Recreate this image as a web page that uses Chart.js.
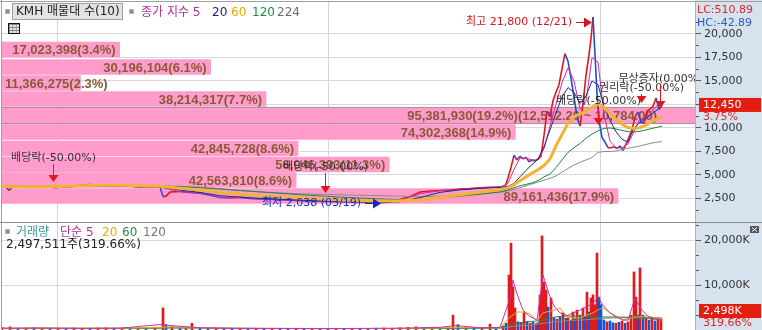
<!DOCTYPE html>
<html lang="ko">
<head>
<meta charset="utf-8">
<title>KMH 매물대</title>
<script src="https://cdn.jsdelivr.net/npm/chart.js@4.4.1/dist/chart.umd.min.js"></script>
<style>
  body { margin: 0; background: #fff; }
  #wrap { position: relative; width: 762px; height: 330px; overflow: hidden;
          font-family: "DejaVu Sans", "Noto Sans CJK KR", sans-serif; }
  #axisBg { position: absolute; left: 695px; top: 0; width: 67px; height: 330px; background: #d6e2ee; }
  canvas { position: absolute; left: 0; top: 0; }
  .lg { position: absolute; font-size: 12px; line-height: 14px; white-space: nowrap; }
  .sq { position: absolute; width: 3px; height: 3px; background: #8a8a8a; border: 1px solid #b5b5b5; }
  #kmh { position: absolute; left: 12px; top: 3px; width: 106px; height: 15px; padding-left: 3px;
         background: #e3e3e3; border: 1px solid #a0a0a0; font-size: 12px; line-height: 15px; color: #222; }
  #tbl { position: absolute; left: 8px; top: 23px; width: 10px; height: 9px; border: 1.5px solid #111;
         background-color: #e8e8e8;
         background-image: linear-gradient(#888 1px, transparent 1px), linear-gradient(90deg, #888 1px, transparent 1px);
         background-size: 3.4px 3px; }
</style>
</head>
<body>
<div id="wrap">
  <div id="axisBg"></div>
  <canvas id="base" width="762" height="330"></canvas>
  <canvas id="profile" width="762" height="222"></canvas>
  <canvas id="price" width="762" height="222"></canvas>

  <div class="sq" style="left:5px;top:9px"></div>
  <div id="kmh">KMH 매물대 수(10)</div>
  <div class="sq" style="left:129px;top:9px"></div>
  <div class="lg" style="left:141px;top:5px;color:#b0309a">종가 지수 5</div>
  <div class="lg" style="left:212px;top:5px;color:#1c1c8c">20</div>
  <div class="lg" style="left:231px;top:5px;color:#e8a800">60</div>
  <div class="lg" style="left:252px;top:5px;color:#1e8c46">120</div>
  <div class="lg" style="left:277px;top:5px;color:#6e6e6e">224</div>
  <div id="tbl"></div>

  <div class="sq" style="left:5px;top:229px"></div>
  <div class="lg" style="left:16px;top:225px;color:#3c9a9a">거래량</div>
  <div class="lg" style="left:60px;top:225px;color:#b0309a">단순 5</div>
  <div class="lg" style="left:102px;top:225px;color:#e0b000">20</div>
  <div class="lg" style="left:122px;top:225px;color:#2a8a4a">60</div>
  <div class="lg" style="left:143px;top:225px;color:#777">120</div>
  <div class="lg" style="left:6px;top:237px;color:#222">2,497,511주(319.66%)</div>
</div>

<script>
// sessions run along the x axis, prices in won, volumes in thousand shares
const priceDays = [2, 6, 9, 12, 20, 30, 40, 50, 55, 60,
  70, 80, 90, 100, 110, 120, 130, 140, 150, 160,
  163, 166, 170, 180, 190, 200, 210, 220, 230, 240,
  250, 260, 270, 280, 290, 300, 310, 320, 330, 340,
  350, 360, 370, 382, 390, 400, 410, 420, 430, 440,
  450, 460, 470, 480, 490, 500, 505, 508, 511, 514,
  517, 520, 523, 526, 529, 532, 535, 538, 541, 544,
  547, 550, 553, 556, 559, 562, 565, 568, 571, 574,
  577, 580, 583, 586, 589, 591, 593, 595, 597, 599,
  602, 605, 608, 611, 614, 617, 620, 623, 626, 629,
  632, 635, 638, 641, 644, 647, 650, 653, 656, 659, 662];
const close = [3780, 3750, 3350, 3700, 3720, 3740, 3700, 3720, 3650, 3700,
  3760, 3900, 3980, 3860, 3800, 3820, 3830, 3700, 3760, 3740,
  2700, 2750, 3200, 3250, 3150, 3050, 2850, 2600, 2550, 2620,
  2500, 2450, 2420, 2380, 2330, 2280, 2250, 2200, 2180, 2170,
  2150, 2120, 2090, 2040, 2150, 2400, 2700, 3200, 3300, 3350,
  3400, 3500, 3550, 3650, 3700, 3720, 3700, 4700, 5800, 7100,
  6600, 7000, 6700, 6900, 6400, 6600, 6500, 6700, 7000, 9200,
  11800, 11200, 12900, 13800, 14600, 16300, 17900, 17100, 15300, 13300,
  11200, 10200, 12600, 15600, 17800, 19500, 21800, 17800, 13700, 10800,
  9000, 8500, 7900, 7900, 8000, 7800, 8100, 7600, 8300, 9000,
  9800, 11200, 11700, 10600, 10500, 11800, 12000, 12300, 13200, 12000, 12450];

const maDays = [2, 20, 40, 60, 80, 100, 120, 140, 160, 180, 200, 220, 240,
  260, 280, 300, 320, 340, 360, 380, 400, 420, 440, 460, 480, 500,
  508, 514, 520, 526, 532, 538, 544, 550, 556, 562, 568, 574, 580,
  586, 592, 598, 604, 610, 616, 622, 628, 634, 640, 646, 652, 658, 662];
const ma5 = [3760, 3720, 3710, 3720, 3880, 3900, 3820, 3740, 3700, 3230, 3080, 2640, 2600,
  2460, 2390, 2290, 2210, 2170, 2130, 2060, 2300, 3000, 3330, 3480, 3630, 3700,
  4100, 5600, 6800, 6800, 6600, 6600, 7800, 10200, 12500, 14800, 16400, 15000, 12000,
  12800, 17500, 17000, 11500, 8600, 7900, 7900, 8300, 9600, 11000, 11000, 11800, 12500, 12600];
const ma20 = [3760, 3730, 3720, 3710, 3800, 3880, 3840, 3780, 3740, 3400, 3150, 2800, 2650,
  2520, 2420, 2330, 2250, 2190, 2150, 2100, 2150, 2600, 3150, 3420, 3580, 3680,
  3800, 4100, 4800, 5500, 6100, 6700, 8000, 9800, 11600, 13300, 14300, 13800, 12600,
  13400, 15000, 14600, 12300, 10800, 9600, 8800, 8500, 10000, 10600, 11000, 11500, 12000, 12300];
const ma60 = [3780, 3760, 3750, 3780, 3850, 3900, 3900, 3860, 3800, 3600, 3400, 3150, 2950,
  2800, 2650, 2550, 2450, 2350, 2280, 2230, 2250, 2350, 2600, 2900, 3200, 3450,
  3650, 3950, 4400, 4800, 5200, 5550, 6000, 6700, 8100, 9300, 10500, 11200, 11500,
  11800, 12200, 12600, 12200, 11500, 10900, 10400, 10050, 9950, 10050, 10300, 10700, 11000, 11200];
const ma120 = [3800, 3790, 3780, 3770, 3790, 3820, 3840, 3850, 3830, 3750, 3650, 3500, 3350,
  3200, 3050, 2900, 2780, 2650, 2550, 2450, 2400, 2420, 2550, 2750, 2950, 3200,
  3400, 3650, 3850, 4000, 4150, 4400, 4800, 5100, 5800, 6600, 7400, 7900, 8350,
  8900, 9350, 9700, 9950, 10000, 9900, 9750, 9600, 9570, 9650, 9800, 9950, 10100, 10200];
const ma224 = [3850, 3840, 3830, 3820, 3820, 3830, 3840, 3840, 3830, 3800, 3700, 3550, 3350,
  3200, 3100, 3000, 2950, 2900, 2850, 2800, 2750, 2700, 2750, 2850, 3000, 3150,
  3300, 3450, 3650, 3850, 4050, 4250, 4450, 4650, 4900, 5300, 5700, 6050, 6350,
  6600, 6850, 7400, 7500, 7500, 7550, 7700, 7850, 7950, 8100, 8250, 8400, 8500, 8560];

const volDays = [2, 10, 18, 26, 34, 42, 50, 58, 66, 74,
  82, 90, 98, 106, 114, 122, 130, 138, 146, 155,
  163, 166, 172, 180, 186, 192, 200, 208, 216, 224,
  232, 240, 248, 256, 264, 272, 280, 288, 296, 304,
  312, 320, 328, 336, 344, 352, 360, 368, 376, 384,
  392, 400, 408, 416, 424, 432, 440, 448, 453, 458,
  466, 474, 482, 490, 496, 503, 506, 509, 511, 513,
  515, 518, 521, 524, 527, 530, 533, 536, 538, 540,
  542, 544, 546, 548, 551, 554, 557, 560, 563, 566,
  568, 571, 573, 575, 577, 580, 583, 585, 587, 589,
  591, 593, 595, 597, 599, 601, 604, 607, 610, 613,
  616, 619, 622, 625, 628, 631, 634, 636, 638, 640,
  643, 646, 649, 652, 655, 658, 661];
const volK = [600, 700, 400, 350, 500, 300, 400, 350, 300, 450,
  350, 300, 450, 500, 350, 400, 300, 350, 300, 600,
  4900, 1200, 700, 450, 400, 1500, 500, 400, 350, 300,
  350, 300, 250, 300, 250, 300, 250, 300, 250, 300,
  250, 300, 250, 300, 250, 300, 250, 300, 400, 450,
  350, 500, 600, 700, 500, 450, 400, 500, 3300, 1200,
  600, 500, 450, 1300, 500, 900, 1500, 12200, 19300, 9600,
  4900, 1800, 1700, 4000, 1900, 1500, 1700, 1400, 1600, 7800,
  20900, 10600, 8900, 5100, 7100, 2700, 2400, 2900, 3800, 2600,
  2700, 2200, 4000, 2500, 4400, 3300, 4900, 3000, 8400, 4000,
  7100, 7800, 5600, 17100, 7300, 5600, 2200, 1800, 2000, 1600,
  1500, 1700, 2000, 1500, 1800, 3300, 12900, 7300, 3300, 13800,
  3300, 2700, 2200, 2600, 2000, 2700, 2498];
const volUp = [1, 1, 0, 1, 0, 1, 0, 1, 0, 1,
  1, 0, 1, 1, 0, 1, 0, 1, 0, 1,
  1, 0, 1, 0, 1, 1, 0, 0, 1, 0,
  0, 1, 0, 1, 0, 1, 0, 0, 1, 0,
  1, 0, 0, 1, 0, 1, 0, 0, 0, 1,
  1, 1, 1, 1, 0, 1, 0, 1, 1, 0,
  1, 0, 1, 1, 0, 1, 0, 1, 1, 1,
  1, 0, 1, 1, 0, 1, 0, 1, 0, 1,
  1, 1, 1, 0, 1, 0, 1, 0, 1, 0,
  1, 0, 1, 0, 1, 0, 1, 0, 1, 0,
  1, 1, 1, 1, 0, 0, 0, 1, 0, 0,
  1, 0, 1, 0, 1, 1, 1, 1, 0, 1,
  0, 1, 0, 1, 0, 1, 1];

const vmaDays = [2, 40, 80, 120, 160, 170, 200, 240, 280, 320,
  360, 400, 440, 455, 480, 500, 510, 513, 517, 523,
  530, 537, 543, 550, 555, 560, 567, 573, 580, 587,
  593, 598, 603, 610, 617, 623, 628, 635, 642, 648, 655, 662];
const vma5 = [400, 450, 350, 400, 1200, 1000, 500, 300, 350, 300,
  350, 400, 600, 1000, 500, 600, 7000, 11100, 8000, 4400,
  3000, 2200, 12200, 7300, 5000, 3800, 3200, 3800, 4400, 5200,
  6000, 7300, 5500, 3800, 2800, 2200, 2200, 7100, 4400, 3000, 2500, 2200];
const vma20 = [400, 420, 400, 400, 600, 700, 550, 350, 330, 320,
  330, 380, 450, 600, 550, 500, 2900, 3300, 4000, 4000,
  3600, 2000, 3800, 4200, 4400, 4900, 2900, 2700, 2700, 3300,
  3800, 4500, 4900, 3800, 3000, 2200, 2500, 2900, 3000, 3100, 2700, 2200];
const vma60 = [350, 380, 380, 380, 450, 500, 480, 380, 330, 320,
  320, 340, 380, 420, 450, 460, 1100, 1300, 1500, 1700,
  1900, 2000, 2200, 2600, 2900, 3000, 3100, 3100, 3100, 3000,
  2950, 2900, 2900, 2900, 2900, 2850, 2850, 2900, 2800, 2600, 2400, 2200];
const vma120 = [330, 350, 360, 370, 400, 420, 430, 400, 360, 340,
  330, 330, 340, 360, 390, 420, 700, 800, 900, 1000,
  1100, 1250, 1500, 1700, 1850, 1950, 2050, 2150, 2200, 2300,
  2400, 2500, 2550, 2650, 2700, 2700, 2700, 2700, 2700, 2700, 2700, 2700];

// volume profile (매물대), 10 price bins
const profileCenters = [18350, 16490, 14780, 13080, 11330, 9570, 7820, 6120, 4470, 2770];
const profileVol = [17023398, 30196104, 11366275, 38214317, 95381930, 74302368, 42845728, 56046393, 42563810, 89161436];
const profilePct = [3.4, 6.1, 2.3, 7.7, 19.2, 14.9, 8.6, 11.3, 8.6, 17.9];
const currentBin = 4;
const currentRange = '(12,512.20 ~ 10,784.00)';

// events on the price pane
const eventDays = [53, 325, 598, 641, 660];
const eventPrice = [4250, 3080, 10320, 12650, 12130];
const eventLabels = ['배당락(-50.00%)', '배당락(-50.00%)', '배당락(-50.00%)', '권리락(-50.00%)', '무상증자(0.00%)'];
const highDay = 593, highPrice = 21800, highLabel = '최고 21,800 (12/21)';
const lowDay = 382, lowPrice = 2038, lowLabel = '최저 2,038 (03/19)';

const priceTicks = [2500, 5000, 7500, 10000, 12500, 15000, 17500, 20000];
const volTicks = [10000, 20000];
const gridSessions = [57, 328, 600];

const lastClose = 12450, changePct = '3.75%';
const lastVolK = 2498, volPct = '319.66%';
const lcText = 'LC:510.89', hcText = 'HC:-42.89';

// layout / style
const PRICE_MAX = 23400, VOL_MAX = 24000, PROFILE_MAX = 100.3e6;
const eventLift = [24, 26, 24, 15, 29];
const FONT = '"DejaVu Sans", "Noto Sans CJK KR", sans-serif';

function pts(xs, ys) {
  return xs.map((v, i) => ({ x: v, y: ys[i] }));
}

// major ticks plus short minor marks in between
function withMinors(major, parts, top) {
  const step = major[1] - major[0];
  const t = [];
  for (let v = major[0] - step; v < top; v += step) {
    for (let k = 1; k <= parts; k++) {
      const m = k === parts ? v + step : v + step * k / parts;
      if (m > 0 && m < top) t.push({ value: k === parts ? Math.round(m) : m });
    }
  }
  return t;
}

const panelDecor = {
  id: 'panelDecor',
  afterDraw(chart) {
    const { ctx, scales } = chart;
    ctx.save();
    ctx.strokeStyle = '#a0a0a0';
    ctx.lineWidth = 1;
    ctx.beginPath();
    ctx.moveTo(0, 1.5); ctx.lineTo(762, 1.5);
    ctx.moveTo(1.5, 0); ctx.lineTo(1.5, 330);
    ctx.stroke();
    ctx.strokeStyle = '#8c8c8c';
    ctx.beginPath();
    ctx.moveTo(0, 222.5); ctx.lineTo(762, 222.5);
    ctx.stroke();

    ctx.font = '11px ' + FONT;
    ctx.textBaseline = 'middle';
    ctx.textAlign = 'left';
    ctx.fillStyle = '#e0282a';
    ctx.fillText(lcText, 697, 10);
    ctx.fillStyle = '#2a5cc4';
    ctx.fillText(hcText, 697, 23);

    const py = scales.y.getPixelForValue(lastClose);
    ctx.fillStyle = '#e31e10';
    ctx.fillRect(699, py - 7, 62, 14);
    ctx.fillStyle = '#fff';
    ctx.fillText(lastClose.toLocaleString('en-US'), 703, py);
    ctx.fillStyle = '#e0282a';
    ctx.fillText(changePct, 703, py + 12);

    const vy = Math.min(scales.yv.getPixelForValue(lastVolK), scales.yv.bottom - 19);
    ctx.fillStyle = '#e31e10';
    ctx.fillRect(699, vy - 7, 62, 14);
    ctx.fillStyle = '#fff';
    ctx.fillText(lastVolK.toLocaleString('en-US') + 'K', 703, vy);
    ctx.fillStyle = '#e0282a';
    ctx.fillText(volPct, 703, vy + 12);

    // little close box of the volume pane
    ctx.fillStyle = '#555';
    ctx.fillRect(750, 226, 9, 7);
    ctx.strokeStyle = '#fff';
    ctx.beginPath();
    ctx.moveTo(752, 227.5); ctx.lineTo(757, 231.5);
    ctx.moveTo(757, 227.5); ctx.lineTo(752, 231.5);
    ctx.stroke();
    ctx.restore();
  }
};

const tickFont = { family: FONT, size: 11 };

function axisOpts(major, parts, top, suffix) {
  return {
    type: 'linear', position: 'right', stack: 'panes', min: 0, max: top,
    afterBuildTicks: s => { s.ticks = withMinors(major, parts, top); },
    afterFit: s => { s.width = 67; s.paddingTop = 0; s.paddingBottom = 0; },
    ticks: {
      font: tickFont, color: '#333', padding: 3, autoSkip: false, maxRotation: 0,
      callback: v => major.includes(v) ? v.toLocaleString('en-US') + suffix : ''
    },
    grid: {
      color: c => major.includes(c.tick.value) ? '#d9d9d9' : 'rgba(0,0,0,0)',
      tickColor: '#555', tickLength: 6,
      tickBorderDash: c => major.includes(c.tick.value) ? [] : [3, 20]
    },
    border: { color: '#a8b4c0' }
  };
}

new Chart(document.getElementById('base'), {
  type: 'line',
  data: {
    datasets: [
      { label: 'v5', data: pts(vmaDays, vma5), yAxisID: 'yv', borderColor: '#d02ca8', borderWidth: 1 },
      { label: 'v20', data: pts(vmaDays, vma20), yAxisID: 'yv', borderColor: '#e0b000', borderWidth: 1 },
      { label: 'v60', data: pts(vmaDays, vma60), yAxisID: 'yv', borderColor: '#228844', borderWidth: 1 },
      { label: 'v120', data: pts(vmaDays, vma120), yAxisID: 'yv', borderColor: '#8c8c8c', borderWidth: 1 },
      { type: 'bar', label: '거래량', data: pts(volDays, volK), yAxisID: 'yv',
        backgroundColor: volUp.map(u => u ? '#e01b1b' : '#1452d6'), barThickness: 2 }
    ]
  },
  options: {
    responsive: false,
    animation: false,
    layout: { padding: { left: 2, top: 2, right: 0, bottom: 0 } },
    elements: { point: { radius: 0 }, line: { tension: 0 } },
    plugins: { legend: { display: false }, tooltip: { enabled: false } },
    scales: {
      x: {
        type: 'linear', min: 2, max: 695, offset: false,
        afterBuildTicks: s => { s.ticks = gridSessions.map(v => ({ value: v })); },
        afterFit: s => { s.height = 0; s.paddingLeft = 0; s.paddingRight = 0; },
        ticks: { display: false },
        grid: { color: '#d4d4d4', drawTicks: false, offset: false },
        border: { display: false }
      },
      y: Object.assign(axisOpts(priceTicks, 2, PRICE_MAX - 1500, ''), { stackWeight: 220, max: PRICE_MAX }),
      yv: Object.assign(axisOpts(volTicks, 3, VOL_MAX, 'K'), { stackWeight: 108 })
    }
  },
  plugins: [panelDecor]
});

const profileLabels = {
  id: 'profileLabels',
  afterDatasetsDraw(chart) {
    const ctx = chart.ctx;
    const left = chart.chartArea.left;
    const meta = chart.getDatasetMeta(1);
    ctx.save();
    ctx.font = 'bold 13px "Liberation Sans", sans-serif';
    ctx.fillStyle = '#8a5a36';
    ctx.textBaseline = 'middle';
    meta.data.forEach((bar, i) => {
      let txt = profileVol[i].toLocaleString('en-US') + '(' + profilePct[i].toFixed(1) + '%)';
      if (i === currentBin) txt += currentRange;
      const w = ctx.measureText(txt).width;
      if (bar.x - left - 6 >= w) {
        ctx.textAlign = 'right';
        ctx.fillText(txt, bar.x - 4, bar.y + 1);
      } else {
        ctx.textAlign = 'left';
        ctx.fillText(txt, left + 3, bar.y + 1);
      }
    });
    ctx.restore();
  }
};

new Chart(document.getElementById('profile'), {
  type: 'bar',
  data: {
    datasets: [
      { label: 'band', data: [{ x: PROFILE_MAX, y: profileCenters[currentBin] }],
        backgroundColor: '#ff9ccc', borderColor: '#8f8f8f',
        borderWidth: { top: 1, bottom: 1, left: 0, right: 0 }, borderSkipped: false, barThickness: 17 },
      { label: '매물대', data: pts(profileVol, profileCenters),
        backgroundColor: '#ff9ccc', barThickness: 15 }
    ]
  },
  options: {
    indexAxis: 'y',
    responsive: false,
    animation: false,
    grouped: false,
    layout: { padding: { left: 2, top: 2, right: 67, bottom: 0 } },
    plugins: { legend: { display: false }, tooltip: { enabled: false } },
    scales: {
      x: { type: 'linear', display: false, min: 0, max: PROFILE_MAX },
      y: { type: 'linear', display: false, min: 0, max: PRICE_MAX, offset: false }
    }
  },
  plugins: [profileLabels]
});

const eventMarks = {
  id: 'eventMarks',
  afterDatasetsDraw(chart) {
    const { ctx, chartArea, scales: { x, y } } = chart;
    ctx.save();
    ctx.beginPath();
    ctx.rect(chartArea.left, chartArea.top, chartArea.width, chartArea.height);
    ctx.clip();
    ctx.font = '11px ' + FONT;
    ctx.textBaseline = 'middle';
    ctx.lineWidth = 1;
    eventDays.forEach((d, i) => {
      const px = Math.round(x.getPixelForValue(d)) + 0.5;
      const tip = y.getPixelForValue(eventPrice[i]);
      const ty = tip - eventLift[i];
      ctx.fillStyle = '#333';
      ctx.textAlign = 'center';
      ctx.fillText(eventLabels[i], px, ty);
      ctx.strokeStyle = ctx.fillStyle = '#e8141c';
      ctx.beginPath();
      ctx.moveTo(px, ty + 6); ctx.lineTo(px, tip - 6);
      ctx.stroke();
      ctx.beginPath();
      ctx.moveTo(px - 5, tip - 7); ctx.lineTo(px + 5, tip - 7); ctx.lineTo(px, tip);
      ctx.closePath();
      ctx.fill();
    });

    const mark = (day, price, label, color, dy) => {
      const tx = x.getPixelForValue(day) - 1;
      const ty = Math.round(y.getPixelForValue(price) + dy) + 0.5;
      ctx.fillStyle = ctx.strokeStyle = color;
      ctx.textAlign = 'right';
      ctx.fillText(label, tx - 20, ty);
      ctx.beginPath();
      ctx.moveTo(tx - 16, ty); ctx.lineTo(tx - 7, ty);
      ctx.stroke();
      ctx.beginPath();
      ctx.moveTo(tx - 8, ty - 5); ctx.lineTo(tx, ty); ctx.lineTo(tx - 8, ty + 5);
      ctx.closePath();
      ctx.fill();
    };
    mark(highDay, highPrice, highLabel, '#d4141c', 5);
    mark(lowDay, lowPrice, lowLabel, '#1428c8', 0);
    ctx.restore();
  }
};

new Chart(document.getElementById('price'), {
  type: 'line',
  data: {
    datasets: [
      { label: '60', data: pts(maDays, ma60), borderColor: '#f2b233', borderWidth: 3 },
      { label: '20', data: pts(maDays, ma20), borderColor: '#1c2a8c', borderWidth: 1 },
      { label: '5', data: pts(maDays, ma5), borderColor: '#d02ca0', borderWidth: 1 },
      { label: '120', data: pts(maDays, ma120), borderColor: '#1a8a3a', borderWidth: 1 },
      { label: '224', data: pts(maDays, ma224), borderColor: '#8c8c8c', borderWidth: 1 },
      { label: '종가', data: pts(priceDays, close), borderWidth: 1.6,
        segment: { borderColor: c => c.p1.parsed.y >= c.p0.parsed.y ? '#e8141c' : '#1f4fd0' } }
    ]
  },
  options: {
    responsive: false,
    animation: false,
    layout: { padding: { left: 2, top: 2, right: 67, bottom: 0 } },
    elements: { point: { radius: 0 }, line: { tension: 0 } },
    plugins: { legend: { display: false }, tooltip: { enabled: false } },
    scales: {
      x: { type: 'linear', display: false, min: 2, max: 695 },
      y: { type: 'linear', display: false, min: 0, max: PRICE_MAX }
    }
  },
  plugins: [eventMarks]
});
</script>
</body>
</html>
